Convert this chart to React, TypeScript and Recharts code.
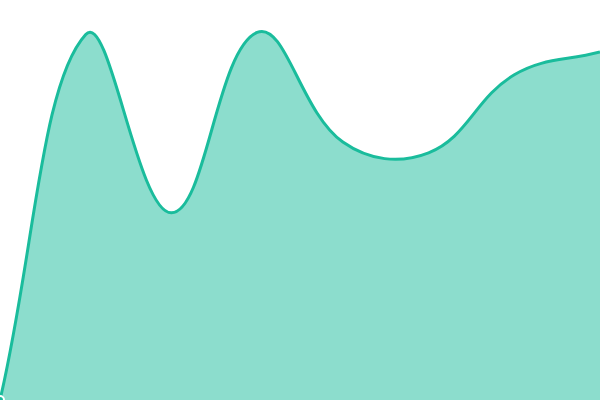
import { Area, AreaChart, XAxis, YAxis } from "recharts";

const months = ["Jan", "Feb", "Mar", "Apr", "May", "Jun", "Jul", "Aug"];
const values = [0, 91.4, 46.8, 91.9, 64.5, 61.8, 81.3, 87];

const data = months.map((month, i) => ({ month, value: values[i] }));

const TENSION = 0.4;

// bezier spline with tension (chart.js style), as a d3 curve factory
function tensionCurve(context: any) {
  let pts: number[][] = [];
  let line = NaN;

  const draw = () => {
    const n = pts.length;
    if (!n) return;
    if (line) context.lineTo(pts[0][0], pts[0][1]);
    else context.moveTo(pts[0][0], pts[0][1]);
    const cps = pts.map((p, i) => {
      const prev = pts[Math.max(i - 1, 0)];
      const next = pts[Math.min(i + 1, n - 1)];
      const d01 = Math.hypot(p[0] - prev[0], p[1] - prev[1]);
      const d12 = Math.hypot(next[0] - p[0], next[1] - p[1]);
      const sum = d01 + d12;
      const fa = sum ? (TENSION * d01) / sum : 0;
      const fb = sum ? (TENSION * d12) / sum : 0;
      const dx = next[0] - prev[0];
      const dy = next[1] - prev[1];
      return { px: p[0] - fa * dx, py: p[1] - fa * dy, nx: p[0] + fb * dx, ny: p[1] + fb * dy };
    });
    for (let i = 1; i < n; i++) {
      context.bezierCurveTo(cps[i - 1].nx, cps[i - 1].ny, cps[i].px, cps[i].py, pts[i][0], pts[i][1]);
    }
  };

  return {
    areaStart() {
      line = 0;
    },
    areaEnd() {
      line = NaN;
    },
    lineStart() {
      pts = [];
    },
    point(x: number, y: number) {
      pts.push([+x, +y]);
    },
    lineEnd() {
      draw();
      if (line || (line !== 0 && pts.length === 1)) context.closePath();
      line = 1 - line;
    },
  };
}

export default function App() {
  return (
    <div style={{ position: "fixed", top: 0, left: 0, background: "#fff" }}>
      <AreaChart width={600} height={400} data={data} margin={{ top: 0, right: 0, bottom: 0, left: 0 }}>
        <XAxis dataKey="month" hide />
        <YAxis hide domain={[0, 100]} />
        <Area
          type={tensionCurve as any}
          dataKey="value"
          stroke="#1abc9c"
          strokeWidth={3}
          fill="#1abc9c"
          fillOpacity={0.5}
          isAnimationActive={false}
        />
      </AreaChart>
    </div>
  );
}
